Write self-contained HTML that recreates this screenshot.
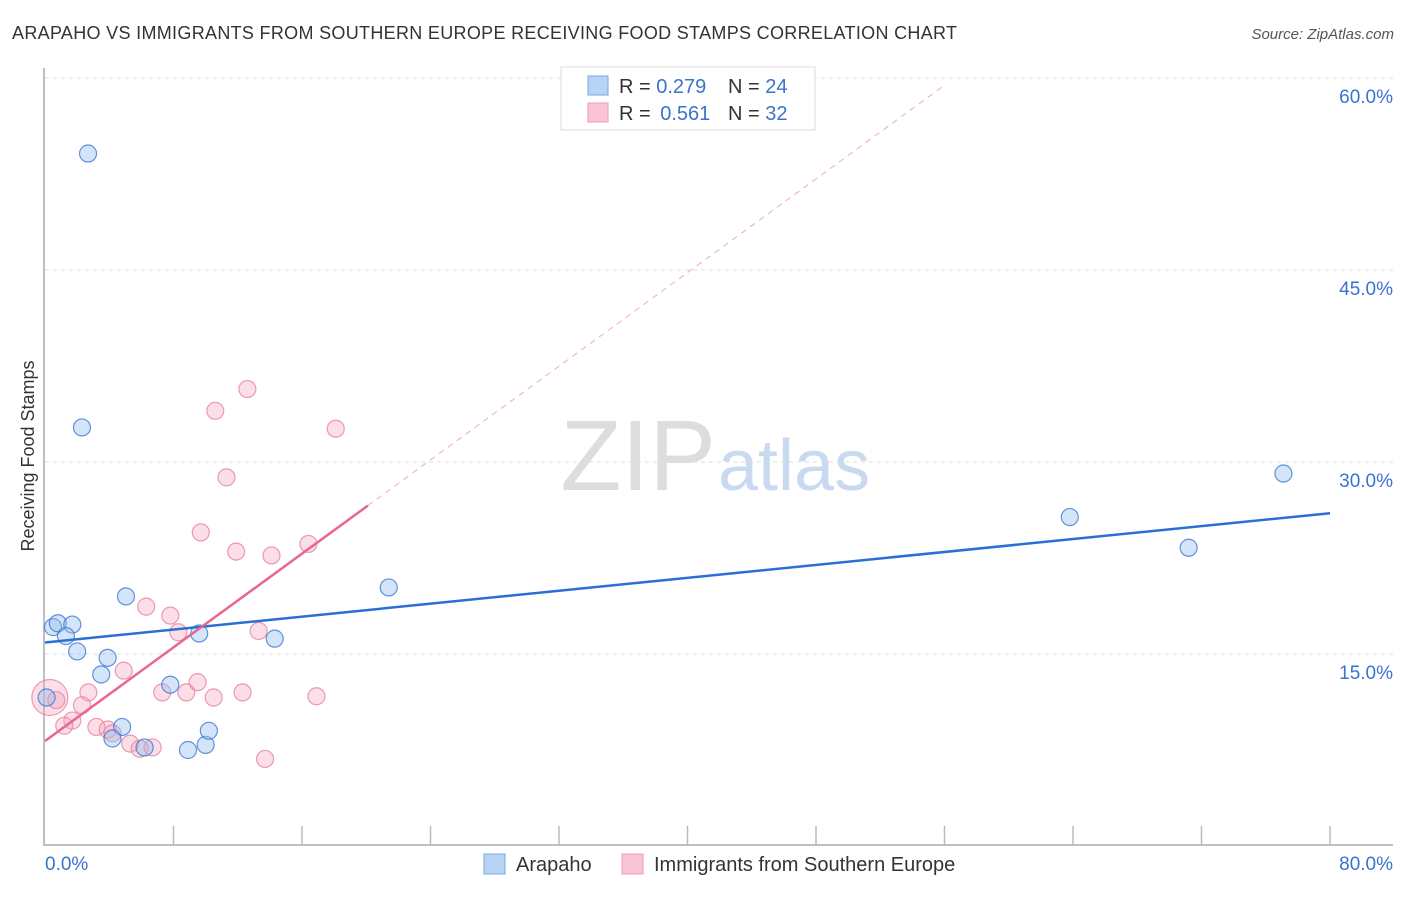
<!DOCTYPE html>
<html><head><meta charset="utf-8"><style>
body{margin:0;background:#fff;font-family:"Liberation Sans",sans-serif;}
svg text{font-family:"Liberation Sans",sans-serif;}
</style></head><body>
<svg id="c" width="1406" height="892" xmlns="http://www.w3.org/2000/svg">
<text x="12" y="39" font-size="18" fill="#333" textLength="945" lengthAdjust="spacing">ARAPAHO VS IMMIGRANTS FROM SOUTHERN EUROPE RECEIVING FOOD STAMPS CORRELATION CHART</text>
<text x="1394" y="39" font-size="15" fill="#555" text-anchor="end" font-style="italic">Source: ZipAtlas.com</text>
<text x="716" y="490" font-size="100" fill="#ddd" text-anchor="end" font-family="Liberation Serif">ZIP</text>
<text x="718" y="490" font-size="72" fill="#c9daf0">atlas</text>
<text transform="translate(34,456) rotate(-90)" font-size="18" fill="#333" text-anchor="middle">Receiving Food Stamps</text>
<g id="grid"></g><g id="marks"></g>
<g>
<rect x="561" y="67" width="254" height="63" fill="#fff" stroke="#ddd"/>
<rect x="588" y="76" width="20" height="19" fill="#b7d3f5" stroke="#7aa7e0"/>
<rect x="588" y="103" width="20" height="19" fill="#f9c5d5" stroke="#ee9ab4"/>
<text x="619" y="93" font-size="20" fill="#333">R = <tspan fill="#3a73cf">0.279</tspan><tspan x="728">N = </tspan><tspan fill="#3a73cf">24</tspan></text>
<text x="619" y="120" font-size="20" fill="#333">R = <tspan fill="#3a73cf" dx="4">0.561</tspan><tspan x="728">N = </tspan><tspan fill="#3a73cf">32</tspan></text>
</g>
<g>
<rect x="484" y="854" width="21" height="20" fill="#b7d3f5" stroke="#7aa7e0"/>
<text x="516" y="871" font-size="20" fill="#333">Arapaho</text>
<rect x="622" y="854" width="21" height="20" fill="#f9c5d5" stroke="#ee9ab4"/>
<text x="654" y="871" font-size="20" fill="#333">Immigrants from Southern Europe</text>
</g>
</svg>
<script>
const yTicks=[15,30,45,60];
const yTickLabels=["15.0%","30.0%","45.0%","60.0%"];
const xTickLabels=["0.0%","80.0%"];
const arapahoX=[2.68,2.3,5.04,21.4,63.8,71.2,77.1,0.5,0.8,1.7,1.3,2.0,3.9,3.5,9.6,14.3,7.8,4.8,4.2,6.2,8.9,10.0,10.2,0.1];
const arapahoY=[54.1,32.7,19.5,20.2,25.7,23.3,29.1,17.1,17.4,17.3,16.4,15.2,14.7,13.4,16.6,16.2,12.6,9.3,8.4,7.7,7.5,7.9,9.0,11.6];
const immX=[12.6,10.6,18.1,11.3,9.7,11.9,14.1,16.4,6.3,7.8,8.3,13.3,4.9,2.7,7.3,8.8,9.5,10.5,12.3,16.9,2.3,3.2,1.7,1.2,3.9,4.2,5.3,5.9,6.7,13.7,0.3,0.7];
const immY=[35.7,34.0,32.6,28.8,24.5,23.0,22.7,23.6,18.7,18.0,16.7,16.8,13.7,12.0,12.0,12.0,12.8,11.6,12.0,11.7,11.0,9.3,9.8,9.4,9.1,8.8,8.0,7.6,7.7,6.8,11.6,11.4];
const immSize=[1,1,1,1,1,1,1,1,1,1,1,1,1,1,1,1,1,1,1,1,1,1,1,1,1,1,1,1,1,1,2,1];
const arapahoTrend=[15.9,26.0];
const immTrend=[8.2,0.915];
const immSolidEnd=20.1, immDashEnd=55.9;

const sx=v=>45+v*1285/80, sy=v=>846-v*192/15;
const NS="http://www.w3.org/2000/svg";
const grid=document.getElementById('grid'), marks=document.getElementById('marks');
function mk(tag,attrs,parent){const e=document.createElementNS(NS,tag);for(const k in attrs)e.setAttribute(k,attrs[k]);parent.appendChild(e);return e;}
yTicks.forEach((t,i)=>{
 const l=mk('line',{x1:45,x2:1393,y1:sy(t),y2:sy(t),stroke:'#ddd','stroke-dasharray':'4,4'},grid);
 
 
 const tx=mk('text',{x:1393,y:sy(t)+25,'font-size':19,fill:'#3a73cf','text-anchor':'end'},grid);
 tx.textContent=yTickLabels[i];
 
 
});
const ax=mk('path',{d:'M44,68 V845 H1393',stroke:'#aaa',fill:'none','stroke-width':1.5},grid);


for(let i=1;i<=10;i++){const x=sx(i*8);const t=mk('line',{x1:x,x2:x,y1:826,y2:845,stroke:'#bbb','stroke-width':1.5},grid);
 
 }
[[0,'start',45],[1,'end',1393]].forEach(([i,a,x])=>{const t=mk('text',{x:x,y:870,'font-size':19,fill:'#3a73cf','text-anchor':a},grid);t.textContent=xTickLabels[i];
 
 });
immX.forEach((x,i)=>{const c=mk('circle',{cx:sx(x),cy:sy(immY[i]),r:immSize[i]>1?18:8.5,fill:'rgba(244,160,186,0.35)',stroke:'rgba(232,130,160,0.8)','stroke-width':1.2},marks);
 
 });
arapahoX.forEach((x,i)=>{const c=mk('circle',{cx:sx(x),cy:sy(arapahoY[i]),r:8.5,fill:'rgba(150,190,240,0.4)',stroke:'rgba(60,120,210,0.8)','stroke-width':1.2},marks);
 
 });
const bl=mk('line',{x1:sx(0),y1:sy(arapahoTrend[0]),x2:sx(80),y2:sy(arapahoTrend[1]),stroke:'#2a6fd6','stroke-width':2.5},marks);


const py=x=>immTrend[0]+immTrend[1]*x;
const pl=mk('line',{x1:sx(0),y1:sy(py(0)),x2:sx(immSolidEnd),y2:sy(py(immSolidEnd)),stroke:'#e8668f','stroke-width':2.5},marks);


const pd=mk('line',{x1:sx(immSolidEnd),y1:sy(py(immSolidEnd)),x2:sx(immDashEnd),y2:sy(py(immDashEnd)),stroke:'#eeaabf','stroke-width':1,'stroke-dasharray':'6,5'},marks);


</script>
</body></html>
